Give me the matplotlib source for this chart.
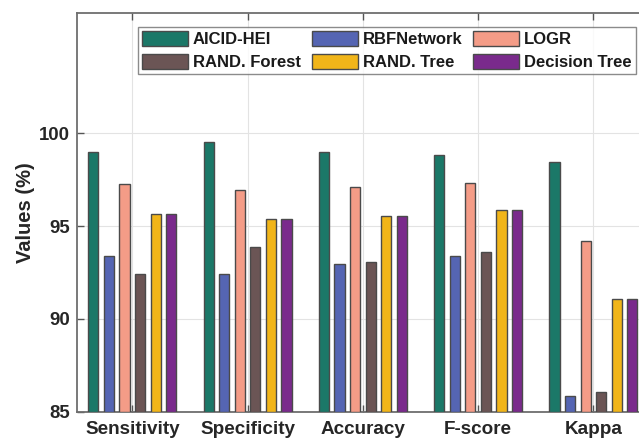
import numpy as np
import matplotlib
matplotlib.use("Agg")
import matplotlib.pyplot as plt

plt.rcParams['font.family'] = ['Liberation Sans', 'DejaVu Sans']
plt.rcParams['font.weight'] = 'bold'

metrics = ["Sensitivity", "Specificity", "Accuracy", "F-score", "Kappa"]
models = ["AICID-HEI", "RBFNetwork", "LOGR", "RAND. Forest", "RAND. Tree", "Decision Tree"]

aicid_hei = [99.01, 99.56, 99.02, 98.86, 98.47]
rbf_network = [93.40, 92.42, 92.95, 93.40, 85.84]
logr = [97.27, 96.93, 97.10, 97.32, 94.22]
rand_forest = [92.42, 93.85, 93.08, 93.60, 86.03]
rand_tree = [95.65, 95.38, 95.56, 95.87, 91.07]
decision_tree = [95.65, 95.36, 95.53, 95.87, 91.07]

series = [aicid_hei, rbf_network, logr, rand_forest, rand_tree, decision_tree]
colors = ["#1b7868", "#5565b3", "#f49c87", "#6b5555", "#f1b519", "#7a2a8c"]

fig = plt.figure(figsize=(6.39, 4.41), dpi=100)
ax = fig.add_axes([77 / 639, (441 - 411.5) / 441, (651 - 77) / 639, (411.5 - 13) / 441])

x = np.arange(1, len(metrics) + 1)
step = 0.135
width = 0.088
handles = []
for i, (vals, col, name) in enumerate(zip(series, colors, models)):
    offs = (i - 2.5) * step
    b = ax.bar(x + offs, np.array(vals) - 85, width, bottom=85, color=col,
               edgecolor="#4a4a4a", linewidth=1.0, label=name, zorder=3)
    handles.append(b)

ax.set_xlim(0.52, 5.5)
ax.set_ylim(85, 106.5)
ax.set_yticks([85, 90, 95, 100])
ax.set_xticks(x)
ax.set_xticklabels(metrics, fontsize=13.6, fontweight='bold', color='#262626')
ax.tick_params(axis='y', labelsize=13.4, labelcolor='#262626', pad=5)
ax.tick_params(axis='x', pad=7)
ax.tick_params(direction='in', length=5, width=1.0, color='#555555',
               top=True, right=True)
ax.grid(True, color='#e3e3e3', linewidth=0.8, zorder=0)
ax.set_axisbelow(True)
for s in ax.spines.values():
    s.set_color('#6e6e6e')
    s.set_linewidth(1.3)

ax.set_ylabel("Values (%)", fontsize=14.5, fontweight='bold', color='#262626', labelpad=3)

# column-major order so the legend reads across in rows of three
order = [0, 3, 1, 4, 2, 5]
leg = ax.legend([handles[i] for i in order], [models[i] for i in order],
                ncol=3, loc='upper left', bbox_to_anchor=(0.106, 0.965),
                handlelength=2.75, handleheight=1.0,
                handletextpad=0.3, columnspacing=0.65, labelspacing=0.38,
                borderpad=0.25, borderaxespad=0, frameon=True, fancybox=False,
                prop={'weight': 'bold', 'size': 12})
leg.get_frame().set_edgecolor('#6e6e6e')
leg.get_frame().set_linewidth(1.0)
for t in leg.get_texts():
    t.set_color('#1a1a1a')

fig.savefig("out.png", dpi=100)
